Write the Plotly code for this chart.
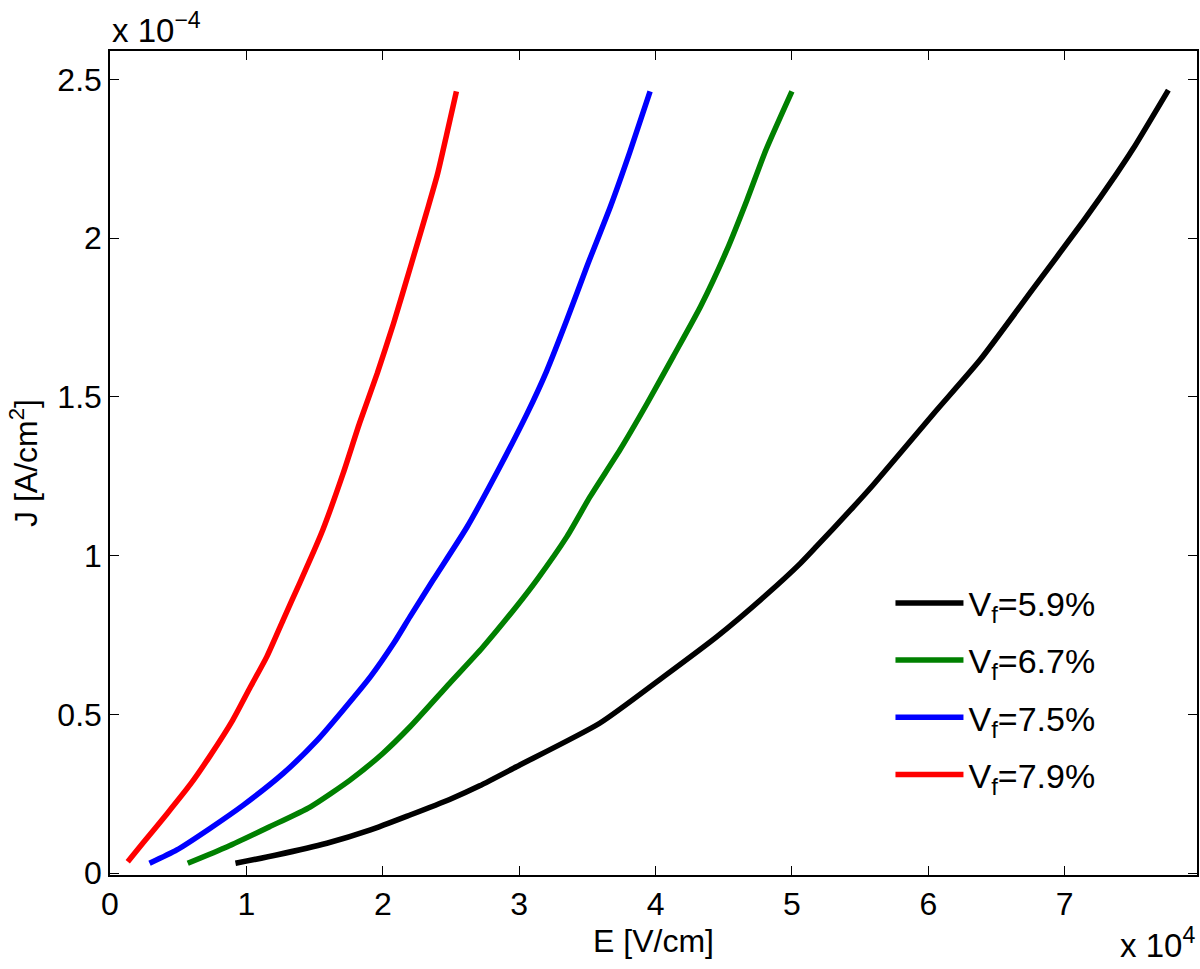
import plotly.graph_objects as go

# E in units of 1e4 V/cm, J in units of 1e-4 A/cm^2
E_59 = [0.92, 1.22, 1.59, 1.91, 2.20, 2.49, 2.71, 2.98, 3.59, 4.06, 4.45, 4.81, 5.06, 5.18, 5.43, 5.60, 6.04, 6.38, 6.77, 7.14, 7.38, 7.50, 7.76]
J_59 = [0.031, 0.057, 0.094, 0.136, 0.183, 0.232, 0.275, 0.335, 0.472, 0.619, 0.745, 0.876, 0.975, 1.029, 1.144, 1.225, 1.448, 1.617, 1.842, 2.056, 2.203, 2.281, 2.467]

E_67 = [0.57, 0.86, 1.17, 1.47, 1.76, 2.00, 2.20, 2.49, 2.73, 2.98, 3.13, 3.35, 3.52, 3.74, 3.94, 4.13, 4.33, 4.52, 4.67, 4.81, 5.00]
J_67 = [0.031, 0.083, 0.146, 0.209, 0.293, 0.377, 0.461, 0.598, 0.71, 0.84, 0.924, 1.06, 1.186, 1.334, 1.481, 1.628, 1.785, 1.96, 2.12, 2.279, 2.463]

E_75 = [0.29, 0.49, 0.73, 0.98, 1.27, 1.52, 1.71, 1.91, 2.08, 2.20, 2.37, 2.62, 2.86, 3.06, 3.20, 3.35, 3.50, 3.67, 3.81, 3.96]
J_75 = [0.031, 0.073, 0.140, 0.215, 0.314, 0.419, 0.514, 0.619, 0.724, 0.808, 0.924, 1.092, 1.281, 1.449, 1.58, 1.743, 1.915, 2.101, 2.27, 2.463]

E_79 = [0.13, 0.24, 0.42, 0.59, 0.73, 0.90, 1.03, 1.15, 1.27, 1.39, 1.48, 1.56, 1.71, 1.83, 1.96, 2.08, 2.21, 2.32, 2.40, 2.47, 2.54]
J_79 = [0.036, 0.094, 0.188, 0.28, 0.367, 0.482, 0.587, 0.682, 0.798, 0.913, 1.0, 1.081, 1.260, 1.418, 1.575, 1.733, 1.92, 2.080, 2.20, 2.33, 2.463]

labels = ["V<sub>f</sub>=5.9%", "V<sub>f</sub>=6.7%", "V<sub>f</sub>=7.5%", "V<sub>f</sub>=7.9%"]
colors = ["#000000", "#008000", "#0000ff", "#ff0000"]

x_ticks = [0, 1, 2, 3, 4, 5, 6, 7]
y_ticks = [0, 0.5, 1, 1.5, 2, 2.5]
y_tick_text = ["0", "0.5", "1", "1.5", "2", "2.5"]

FONT = "Liberation Sans, Arial, Helvetica, sans-serif"

fig = go.Figure()
for i, (xs, ys, name, c) in enumerate(zip([E_59, E_67, E_75, E_79], [J_59, J_67, J_75, J_79], labels, colors)):
    fig.add_trace(go.Scatter(x=xs, y=ys, mode="lines", name=name, legendgroup=f"g{i}",
                             line=dict(color=c, width=5.5, shape="spline", smoothing=0.6)))

axis_common = dict(showline=True, linecolor="black", linewidth=1.5, mirror="ticks",
                   ticks="inside", ticklen=9, tickwidth=1.2, tickcolor="black",
                   showgrid=False, zeroline=False, automargin=False,
                   tickfont=dict(family=FONT, size=32, color="black"))

fig.update_layout(
    width=1200, height=969,
    margin=dict(l=110, r=3, t=51, b=94),
    paper_bgcolor="white", plot_bgcolor="white",
    font=dict(family=FONT, color="black"),
    xaxis=dict(range=[0, 7.97], tickvals=x_ticks, ticktext=[str(v) for v in x_ticks],
               title=dict(text="E [V/cm]", font=dict(family=FONT, size=32), standoff=8),
               **axis_common),
    yaxis=dict(range=[-0.006, 2.59], tickvals=y_ticks, ticktext=y_tick_text,
               title=dict(text="J [A/cm<sup>2</sup>]", font=dict(family=FONT, size=32), standoff=10),
               **axis_common),
    legend=dict(x=0.718, y=0.226, xanchor="left", yanchor="middle",
                bgcolor="rgba(0,0,0,0)", borderwidth=0,
                font=dict(family=FONT, size=34, color="black"),
                tracegroupgap=10, itemwidth=68),
    showlegend=True,
)

fig.add_annotation(text="x 10<sup>\u22124</sup>", xref="paper", yref="paper",
                   x=0.0, y=1.0, xanchor="left", yanchor="bottom", showarrow=False,
                   font=dict(family=FONT, size=33, color="black"), yshift=0)
fig.add_annotation(text="x 10<sup>4</sup>", xref="paper", yref="paper",
                   x=1.0, y=0.0, xanchor="right", yanchor="bottom", showarrow=False,
                   font=dict(family=FONT, size=33, color="black"), yshift=-91)

fig.write_html("out.html", config={"displayModeBar": False},
               post_script="document.body.style.margin='0';document.body.style.overflow='hidden';")
